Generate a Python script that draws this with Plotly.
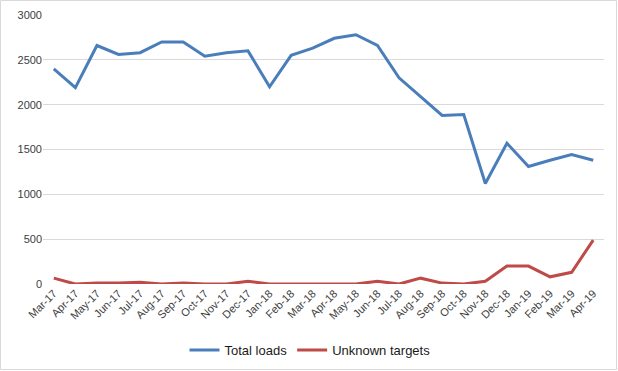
import plotly.graph_objects as go

months = ["Mar-17","Apr-17","May-17","Jun-17","Jul-17","Aug-17","Sep-17","Oct-17","Nov-17","Dec-17",
          "Jan-18","Feb-18","Mar-18","Apr-18","May-18","Jun-18","Jul-18","Aug-18","Sep-18","Oct-18",
          "Nov-18","Dec-18","Jan-19","Feb-19","Mar-19","Apr-19"]
total_loads = [2400, 2190, 2660, 2560, 2580, 2700, 2700, 2540, 2580, 2600,
               2200, 2550, 2630, 2740, 2780, 2660, 2300, 2090, 1880, 1890,
               1120, 1570, 1310, 1380, 1445, 1380]
unknown_targets = [65, 0, 10, 10, 20, 0, 10, 0, 0, 30,
                   0, 0, 0, 0, 0, 30, 0, 65, 10, 0,
                   30, 200, 200, 80, 130, 490]
y_ticks = [0, 500, 1000, 1500, 2000, 2500, 3000]

fig = go.Figure()
fig.add_trace(go.Scatter(x=months, y=total_loads, mode="lines", name="Total loads",
                         line=dict(color="#4A7EBB", width=3)))
fig.add_trace(go.Scatter(x=months, y=unknown_targets, mode="lines", name="Unknown targets",
                         line=dict(color="#BE4B48", width=3)))

W, H = 618, 371
ml, mr, mt, mb = 43, 14, 15, 87
pw, ph = W - ml - mr, H - mt - mb

fig.update_layout(
    width=W, height=H,
    margin=dict(l=ml, r=mr, t=mt, b=mb, autoexpand=False),
    paper_bgcolor="white", plot_bgcolor="white",
    font=dict(family="Liberation Sans, Arial, sans-serif", size=11, color="#404040"),
    showlegend=True,
    legend=dict(orientation="h", x=(310 - ml) / pw, xanchor="center", y=-(350 - 284) / ph, yanchor="middle",
                font=dict(size=13, color="#1a1a1a"), itemwidth=30, tracegroupgap=0),
    xaxis=dict(type="category", range=[-0.5, len(months) - 0.5], tickangle=-45,
               showgrid=False, showline=False, ticks="", zeroline=False, automargin=False,
               tickfont=dict(size=11, color="#404040")),
    yaxis=dict(range=[0, 3000], tickvals=y_ticks, showgrid=True, gridcolor="#D9D9D9",
               gridwidth=1, zeroline=False, showline=False, ticks="", automargin=False,
               tickfont=dict(size=11, color="#404040")),
    shapes=[dict(type="rect", xref="paper", yref="paper",
                 x0=-(ml - 0.5) / pw, x1=1 + (mr - 1.5) / pw,
                 y0=-(mb - 1.5) / ph, y1=1 + (mt - 0.5) / ph,
                 line=dict(color="#D9D9D9", width=1), fillcolor="rgba(0,0,0,0)", layer="below")],
)

fig.write_html("out.html", config={"displayModeBar": False},
               post_script="document.body.style.margin='0';document.body.style.overflow='hidden';")
